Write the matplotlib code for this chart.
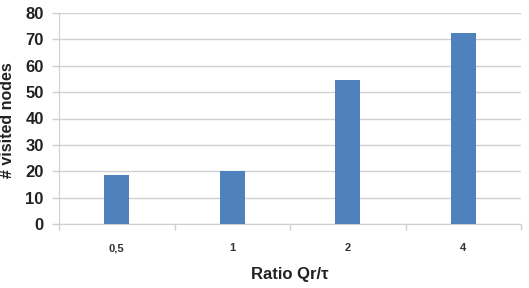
import matplotlib.pyplot as plt
import numpy as np

plt.rcParams["font.family"] = ["Liberation Sans", "DejaVu Sans"]

categories = ["0,5", "1", "2", "4"]
visited_nodes = [18.6, 20.1, 54.5, 72.3]

BAR_COLOR = "#4F81BD"
GRID_COLOR = "#D0D0D0"
TEXT_COLOR = "#222222"

fig = plt.figure(figsize=(5.29, 2.88), dpi=100)
ax = fig.add_axes([59 / 529, 1 - 224 / 288, (521 - 59) / 529, (224 - 13) / 288])

x = np.arange(len(categories))
ax.bar(x, visited_nodes, width=0.22, color=BAR_COLOR, zorder=3)

ax.set_xlim(-0.5, len(categories) - 0.5)
ax.set_ylim(0, 80)
ax.set_yticks(np.arange(0, 81, 10))
ax.yaxis.grid(True, color=GRID_COLOR, linewidth=1.0, zorder=0)
ax.tick_params(axis="y", length=5, width=1, color=GRID_COLOR, labelsize=12, pad=6)
for lbl in ax.get_yticklabels():
    lbl.set_fontweight("bold")
    lbl.set_color(TEXT_COLOR)

# category labels sit between the separator ticks
ax.set_xticks(x)
ax.set_xticklabels(categories, fontsize=8, fontweight="bold", color="#333333")
ax.tick_params(axis="x", length=0, pad=14)
ax.set_xticks(np.arange(-0.5, len(categories)), minor=True)
ax.tick_params(axis="x", which="minor", length=4, width=1, color=GRID_COLOR, direction="out")

for side in ["top", "right"]:
    ax.spines[side].set_visible(False)
ax.spines["left"].set_color(GRID_COLOR)
ax.spines["bottom"].set_color(GRID_COLOR)

ax.set_xlabel("Ratio Qr/\u03c4", fontsize=12, fontweight="bold", color=TEXT_COLOR)
ax.xaxis.set_label_coords(0.5, -(274 - 224) / 211, transform=ax.transAxes)
ax.set_ylabel("# visited nodes", fontsize=11.5, fontweight="bold", color=TEXT_COLOR)
ax.yaxis.set_label_coords(-(59 - 8) / 462, (224 - 120) / 211, transform=ax.transAxes)
ax.yaxis.label.set_verticalalignment("center")
ax.xaxis.label.set_verticalalignment("center")

fig.savefig("out.png", dpi=100)
